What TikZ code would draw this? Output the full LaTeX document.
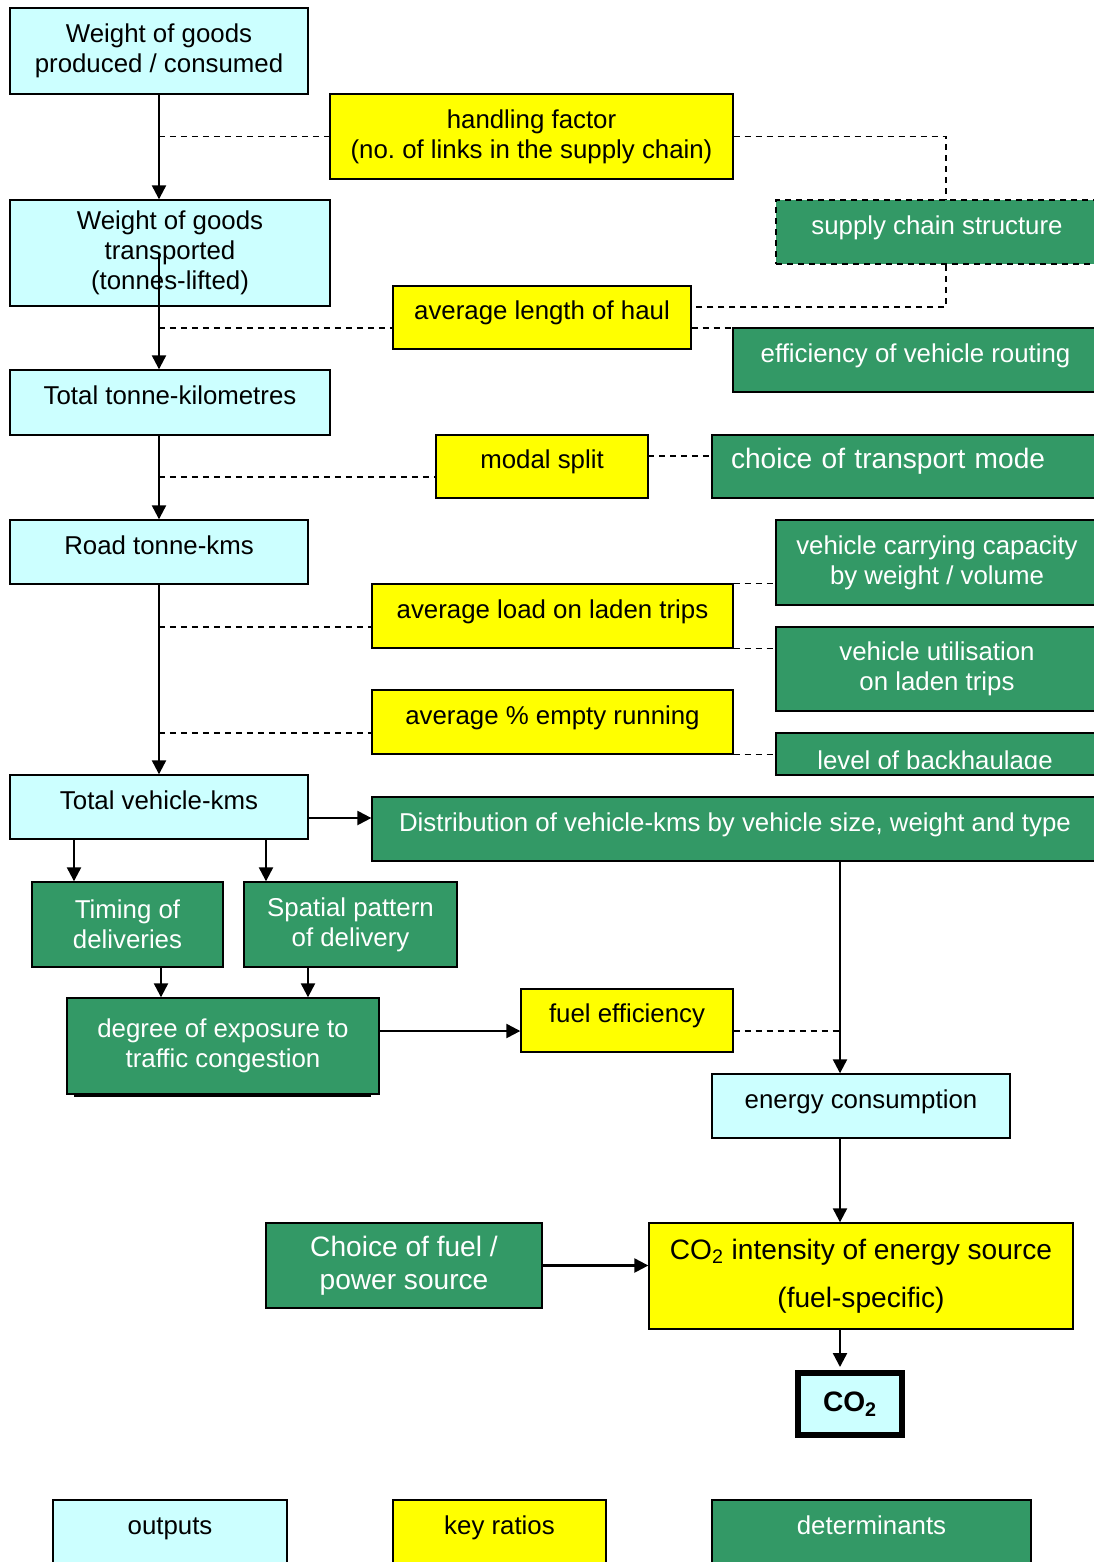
\documentclass[tikz,border=0pt]{standalone}
\usepackage{fontspec}
\setmainfont{Liberation Sans}
\usetikzlibrary{arrows.meta}
\definecolor{outc}{HTML}{CCFFFF}
\definecolor{ratc}{HTML}{FFFF00}
\definecolor{detc}{HTML}{339966}

\begin{document}
\begin{tikzpicture}[x=0.02cm,y=-0.02cm,
  box/.style={draw,line width=0.8pt,rectangle,inner sep=0pt,align=center,font=\fontsize{14.7}{17.1}\selectfont},
  outp/.style={box,fill=outc},
  ratio/.style={box,fill=ratc},
  det/.style={box,fill=detc,text=white},
  one/.style={text height=0.37cm,text depth=0.28cm},
  arr/.style={line width=1.3pt,-{Triangle[length=0.28cm,width=0.28cm]}},
  dsh/.style={line width=0.9pt,dash pattern=on 0.12cm off 0.1cm}]
\useasboundingbox (0,0) rectangle (1094,1562);
\clip (0,0) rectangle (1094,1562);

\node[outp,minimum width=5.96cm,minimum height=1.72cm] (wgp) at (159,51) {Weight of goods\\produced / consumed};
\node[outp,minimum width=6.4cm,minimum height=2.12cm,text depth=0.1cm] (wgt) at (170,253) {Weight of goods\\transported\\(tonnes-lifted)};
\node[outp,one,minimum width=6.4cm,minimum height=1.3cm] (ttk) at (170,402.5) {Total tonne-kilometres};
\node[outp,one,minimum width=5.96cm,minimum height=1.28cm] (rtk) at (159,552) {Road tonne-kms};
\node[outp,one,minimum width=5.96cm,minimum height=1.28cm] (tvk) at (159,807) {Total vehicle-kms};
\node[outp,one,minimum width=5.96cm,minimum height=1.28cm] (enc) at (861,1106) {energy consumption};
\node[draw,line width=0.12cm,fill=outc,inner sep=0pt,minimum width=2.08cm,minimum height=1.24cm,font=\fontsize{16}{19}\selectfont\bfseries] (co2) at (850,1404) {CO\textsubscript{2}};

\node[ratio,minimum width=8.06cm,minimum height=1.7cm] (hf) at (531.5,136.5) {handling factor\\(no.\ of links in the supply chain)};
\node[ratio,one,minimum width=5.96cm,minimum height=1.26cm] (alh) at (542,317.5) {average length of haul};
\node[ratio,one,minimum width=4.24cm,minimum height=1.26cm] (ms) at (542,466.5) {modal split};
\node[ratio,one,minimum width=7.22cm,minimum height=1.28cm] (alt) at (552.5,616) {average load on laden trips};
\node[ratio,one,minimum width=7.22cm,minimum height=1.28cm] (aer) at (552.5,722) {average \% empty running};
\node[ratio,one,minimum width=4.24cm,minimum height=1.26cm] (fe) at (627,1020.5) {fuel efficiency};
\node[ratio,minimum width=8.48cm,minimum height=2.12cm,font=\fontsize{16}{27.3}\selectfont] (ci) at (861,1276) {CO\textsubscript{2} intensity of energy source\\(fuel-specific)};

\node[det,one,dsh,minimum width=6.44cm,minimum height=1.28cm] (scs) at (937,232) {supply chain structure};
\node[det,one,minimum width=7.3cm,minimum height=1.28cm] (evr) at (915.5,360) {efficiency of vehicle routing};
\node[det,one,minimum width=7.76cm,minimum height=1.26cm,text width=7cm,align=left,font=\fontsize{16}{19}\selectfont] (ctm) at (906,466.5) {choice of transport mode};
\node[det,minimum width=6.44cm,minimum height=1.7cm] (vcc) at (937,562.5) {vehicle carrying capacity\\by weight / volume};
\node[det,minimum width=6.44cm,minimum height=1.68cm] (vul) at (937,669) {vehicle utilisation\\on laden trips};
\node[det,minimum width=6.44cm,minimum height=0.84cm] (lob) at (937,754) {};
\begin{scope}
\clip (776,733) rectangle (1098,768);
\node[text=white,anchor=base,inner sep=0pt,font=\fontsize{14.7}{17.1}\selectfont] (lobt) at (935,769) {level of backhaulage};
\end{scope}
\node[det,one,minimum width=14.52cm,minimum height=1.28cm] (dvk) at (735,829) {Distribution of vehicle-kms by vehicle size, weight and type};
\node[det,minimum width=3.82cm,minimum height=1.7cm] (tod) at (127.5,924.5) {Timing of\\deliveries};
\node[det,minimum width=4.26cm,minimum height=1.7cm] (spd) at (350.5,924.5) {Spatial pattern\\of delivery};
\node[det,minimum width=6.24cm,minimum height=1.92cm] (dec) at (223,1046) {degree of exposure to\\traffic congestion};
\fill ([xshift=0.16cm]dec.south west) ++(0,-0.05cm) rectangle ++(5.94cm,0.05cm);
\node[det,minimum width=5.52cm,minimum height=1.7cm,font=\fontsize{16}{18.8}\selectfont] (cfp) at (404,1265.5) {Choice of fuel /\\power source};

\node[outp,one,minimum width=4.68cm,minimum height=1.28cm] (lgo) at (170,1532) {outputs};
\node[ratio,one,minimum width=4.26cm,minimum height=1.28cm] (lgr) at (499.5,1532) {key ratios};
\node[det,one,minimum width=6.38cm,minimum height=1.28cm] (lgd) at (871.5,1532) {determinants};

\coordinate (j1) at (159,136.5);
\coordinate (j2) at (159,328);
\coordinate (j3) at (159,477);
\coordinate (j4) at (159,627);
\coordinate (j5) at (159,733);
\coordinate (j6) at (840,1031);
\coordinate (k3) at (691,307);
\coordinate (m1) at (648,456);
\coordinate (t1) at (308,818);
\coordinate (sx) at (946,0);
\coordinate (xa) at (74,0);
\coordinate (xb) at (266,0);
\coordinate (xc) at (161,0);
\coordinate (xd) at (308,0);
\coordinate (vx) at (840,0);

\draw[arr] (wgp.south) -- (wgp.south |- wgt.north);
\draw[arr] (wgp.south |- wgt.center) -- (wgp.south |- ttk.north);
\draw[arr] (rtk.north |- ttk.south) -- (rtk.north);
\draw[arr] (rtk.south) -- (tvk.north);
\draw[arr] (t1) -- (t1 -| dvk.west);
\draw[arr] (tvk.south -| xa) -- (tod.north -| xa);
\draw[arr] (tvk.south -| xb) -- (spd.north -| xb);
\draw[arr] (tod.south -| xc) -- (dec.north -| xc);
\draw[arr] (spd.south -| xd) -- (dec.north -| xd);
\draw[arr] (dec.east |- j6) -- (fe.west |- j6);
\draw[arr] (dvk.south -| vx) -- (enc.north -| vx);
\draw[arr] (enc.south -| vx) -- (ci.north -| vx);
\draw[arr] (cfp.east) -- (cfp.east -| ci.west);
\draw[arr,shorten >=0.06cm] (ci.south -| vx) -- (co2.north -| vx);

\draw[dsh] (j1) -- (hf.west);
\draw[dsh] (hf.east) -| (scs.north -| sx);
\draw[dsh] (scs.south -| sx) |- (k3);
\draw[dsh] (j2) -- (j2 -| alh.west);
\draw[dsh] (j2 -| alh.east) -- (j2 -| evr.west);
\draw[dsh] (j3) -- (j3 -| ms.west);
\draw[dsh] (m1) -- (m1 -| ctm.west);
\draw[dsh] (j4) -- (j4 -| alt.west);
\draw[dsh] (alt.north east) -- (alt.north east -| vcc.west);
\draw[dsh] (alt.south east) -- (alt.south east -| vul.west);
\draw[dsh] (j5) -- (j5 -| aer.west);
\draw[dsh] (aer.south east) -- (aer.south east -| lob.west);
\draw[dsh] (j6 -| fe.east) -- (j6);
\end{tikzpicture}
\end{document}
